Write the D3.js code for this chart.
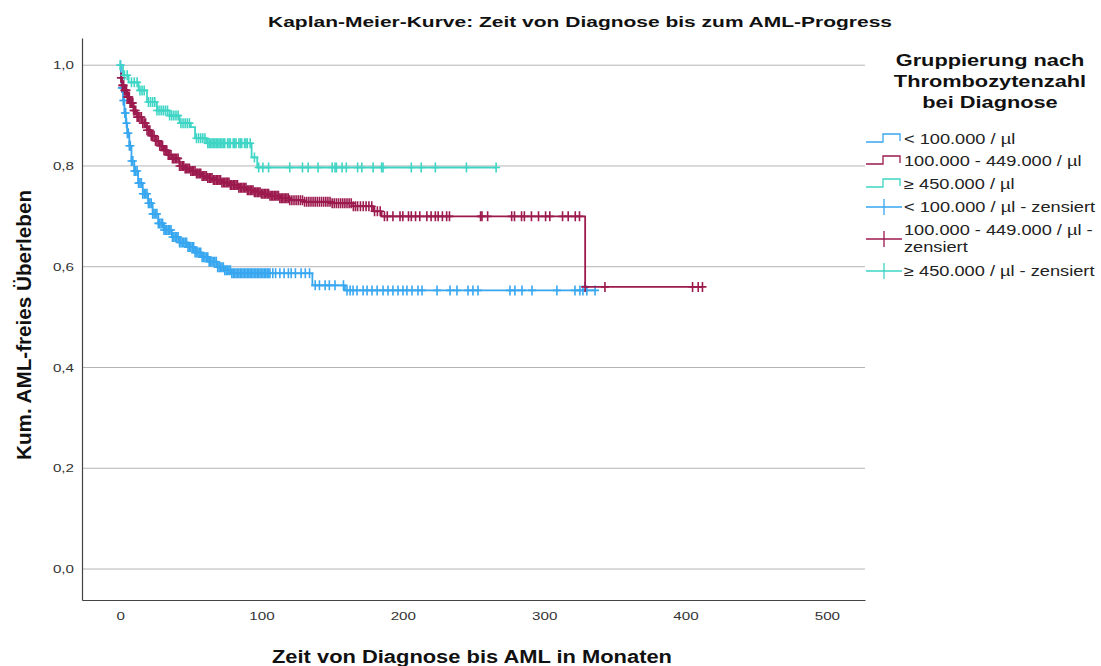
<!DOCTYPE html>
<html>
<head>
<meta charset="utf-8">
<script src="https://cdn.jsdelivr.net/npm/d3@7"></script>
<style>
  body { margin: 0; background: #fff; }
  svg text { font-family: "Liberation Sans", Arial, sans-serif; }
</style>
</head>
<body>
<svg id="chart" width="1101" height="666"></svg>
<script>
// groups (legend labels)
const groupNames = ["< 100.000 / µl", "100.000 - 449.000 / µl", "≥ 450.000 / µl"];
const groupColors = ["#38a7f0", "#9c1a4e", "#3fd5c5"];

// step knots: time (months) and survival after the step
const blueTimes = [0, 0.5, 1, 2, 3, 4, 5, 6.5, 8, 10, 12.7, 16, 19.8, 23, 27, 31, 36.6, 42, 48, 53, 58, 63, 69, 74, 79, 136, 159];
const blueSurv  = [1.0, 0.975, 0.955, 0.93, 0.905, 0.885, 0.865, 0.84, 0.81, 0.79, 0.766, 0.745, 0.726, 0.705, 0.686, 0.673, 0.659, 0.648, 0.639, 0.628, 0.619, 0.61, 0.599, 0.593, 0.587, 0.563, 0.553];
const blueCensor = [0.3, 0.8, 1.2, 1.7, 2.2, 2.8, 3.3, 3.9, 4.5, 5.1, 5.8, 6.5, 7.2, 8, 9, 10, 11, 12, 13, 14, 15, 16, 17, 18, 19, 20,
  21, 22, 23, 24, 25, 26, 27, 28, 29, 30, 31, 32, 33, 34, 35, 36, 37, 38, 39, 40, 41, 42, 43, 44, 45, 46, 47, 48, 49, 50,
  51, 52, 53, 54, 55, 56, 57, 58, 59, 60, 61, 62, 63, 64, 65, 66, 67, 68, 69, 70, 71, 72, 73, 74, 75, 76, 77, 78, 79, 80,
  81, 82, 83, 84, 85, 86, 87, 88, 89, 90, 91, 92, 93, 94, 95, 96, 97, 98, 99, 100, 101, 102, 103, 104, 105, 106, 108, 110,
  113, 116, 119, 121, 124, 128, 131, 134,
  138, 141, 145, 148, 152, 158,
  160.5, 162.7, 164.8, 167.6, 171.9, 174.7, 178.2, 181.8, 186, 189.5, 193, 196.6, 200.1, 202.9, 206.5, 210.7, 213.6, 224.2, 233.4, 238.3, 246.1, 249.6, 253.2, 275.8, 279.3, 284.3, 291.4, 309, 321.8, 325.3, 327.4, 330.2, 336];

const redTimes = [0, 1.5, 3, 5, 7, 9.5, 12, 15.5, 19, 22, 25, 28, 31, 34, 37, 42, 46, 50, 54, 58, 62, 66, 72, 78, 84, 90, 95, 100, 106, 113, 120, 130, 149, 165, 179, 185, 329];
const redSurv  = [0.975, 0.96, 0.95, 0.937, 0.925, 0.91, 0.897, 0.885, 0.871, 0.86, 0.85, 0.84, 0.831, 0.822, 0.815, 0.80, 0.795, 0.79, 0.785, 0.78, 0.776, 0.772, 0.767, 0.762, 0.757, 0.752, 0.748, 0.745, 0.741, 0.736, 0.732, 0.729, 0.726, 0.72, 0.71, 0.70, 0.56];
const redCensor = [0.5, 1, 1.5, 2, 2.5, 3, 3.5, 4, 4.5, 5, 5.5, 6, 6.5, 7, 7.5, 8, 8.5, 9, 9.5, 10,
  11, 12, 13, 14, 15, 16, 17, 18, 19, 20, 21, 22, 23, 24, 25, 26, 27, 28, 29, 30, 31, 32, 33, 34, 35, 36, 37, 38, 39, 40,
  41, 42, 43, 44, 45, 46, 47, 48, 49, 50, 51, 52, 53, 54, 55, 56, 57, 58, 59, 60, 61, 62, 63, 64, 65, 66, 67, 68, 69, 70,
  71, 72, 73, 74, 75, 76, 77, 78, 79, 80, 81, 82, 83, 84, 85, 86, 87, 88, 89, 90, 91, 92, 93, 94, 95, 96, 97, 98, 99, 100,
  101, 102, 103, 104, 105, 106, 107, 108, 109, 110, 111, 112, 113, 114, 115, 116, 117, 118, 119, 120,
  121.5, 123, 124.5, 126, 127.5, 129, 130.5, 132, 133.5, 135, 136.5, 138, 139.5, 141, 142.5, 144, 145.5, 147, 148.5, 150,
  151.5, 153, 154.5, 156, 157.5, 159, 160.5, 162, 163.5, 165, 166.5, 168, 170, 172, 174, 176, 178, 180, 182, 184,
  187, 189, 193, 198, 200, 204, 206, 209, 212, 217, 220, 223, 225, 228, 231, 233, 255, 256, 260, 277, 279, 284, 286, 291, 296, 301, 304, 313, 317, 322, 325,
  329, 343, 405, 409, 412];

const tealTimes = [0, 2, 6, 13, 19, 26, 35, 42, 50, 53, 61, 93, 97];
const tealSurv  = [1.0, 0.98, 0.966, 0.95, 0.927, 0.91, 0.90, 0.885, 0.877, 0.855, 0.845, 0.817, 0.797];
const tealCensor = [0, 3, 5, 8, 10, 12, 14, 15.5, 17, 20, 21.5, 23, 24.5, 26, 27.5, 29, 30.5, 32, 33.5, 35, 36.5, 38, 39.5, 41, 43, 44.5, 46, 47.5, 49,
  54, 55.5, 57, 58.5, 60, 62, 63, 64, 65, 66, 67, 68, 69, 70, 71, 72, 73, 74, 76, 77, 78, 80, 81, 82, 84, 85, 86, 88, 89, 90, 92, 95,
  98, 101, 105, 120, 129, 133, 140, 150, 152, 153, 157, 160, 168, 171, 179, 185, 186, 206, 213, 223, 245, 266];

const xTicks = [0, 100, 200, 300, 400, 500];
const yTicks = [0, 0.2, 0.4, 0.6, 0.8, 1.0];

const groups = [
  { times: blueTimes, surv: blueSurv, censor: blueCensor },
  { times: redTimes, surv: redSurv, censor: redCensor },
  { times: tealTimes, surv: tealSurv, censor: tealCensor }
];

const svg = d3.select("#chart");

// the source picture has wide glyphs; stretch text horizontally
const stretch = (sel, k) => sel.each(function () {
  const w = this.getComputedTextLength();
  d3.select(this).attr("textLength", w * k).attr("lengthAdjust", "spacingAndGlyphs");
});

const x = d3.scaleLinear().domain([-27, 527]).range([82, 865]);
const y = d3.scaleLinear().domain([-0.0615, 1.054]).range([600, 38]);

// gridlines
svg.append("g")
  .selectAll("line")
  .data(yTicks)
  .enter()
  .append("line")
  .attr("x1", 82).attr("x2", 865)
  .attr("y1", d => y(d)).attr("y2", d => y(d))
  .attr("stroke", "#b4b4b4")
  .attr("stroke-width", 1);

// axes
const xAxis = svg.append("g")
  .attr("transform", "translate(0,600)")
  .call(d3.axisBottom(x).tickValues(xTicks).tickSize(0).tickSizeOuter(0).tickPadding(12));
const yAxis = svg.append("g")
  .attr("transform", "translate(82,0)")
  .call(d3.axisLeft(y).tickValues(yTicks).tickSize(0).tickSizeOuter(0).tickPadding(8)
    .tickFormat(d => d3.format(".1f")(d).replace(".", ",")));

[xAxis, yAxis].forEach(a => {
  a.select(".domain").attr("stroke", "#444").attr("stroke-width", 1.2);
  a.selectAll("text")
    .style("font-family", "'Liberation Sans', Arial, sans-serif")
    .style("font-size", "11px")
    .attr("fill", "#333")
    .call(stretch, 1.38);
});

// survival value at a given time (step function)
const survAt = (g, t) => {
  const i = d3.bisectRight(g.times, t) - 1;
  return g.surv[Math.max(0, i)];
};

const line = d3.line()
  .x(d => x(d[0]))
  .y(d => y(d[1]))
  .curve(d3.curveStepAfter);

groups.forEach((g, gi) => {
  const lastT = d3.max(g.censor.concat(g.times));
  const pts = g.times.map((t, i) => [t, g.surv[i]]);
  pts.push([lastT, g.surv[g.surv.length - 1]]);

  const layer = svg.append("g");
  layer.append("path")
    .datum(pts)
    .attr("d", line)
    .attr("fill", "none")
    .attr("stroke", groupColors[gi])
    .attr("stroke-width", 1.8);

  layer.selectAll("path.censor")
    .data(g.censor)
    .enter()
    .append("path")
    .attr("class", "censor")
    .attr("d", t => {
      const cx = x(t), cy = y(survAt(g, t));
      return `M${cx - 4},${cy}H${cx + 4}M${cx},${cy - 5}V${cy + 5}`;
    })
    .attr("stroke", groupColors[gi])
    .attr("stroke-width", 1.6)
    .attr("fill", "none");
});

// title
svg.append("text")
  .attr("x", 580).attr("y", 27)
  .attr("text-anchor", "middle")
  .style("font-size", "15px")
  .style("font-weight", "bold")
  .attr("fill", "#111")
  .attr("textLength", 624)
  .attr("lengthAdjust", "spacingAndGlyphs")
  .text("Kaplan-Meier-Kurve: Zeit von Diagnose bis zum AML-Progress");

// axis titles
svg.append("text")
  .attr("x", 472).attr("y", 663)
  .attr("text-anchor", "middle")
  .style("font-size", "18px")
  .style("font-weight", "bold")
  .attr("fill", "#111")
  .attr("textLength", 400)
  .attr("lengthAdjust", "spacingAndGlyphs")
  .text("Zeit von Diagnose bis AML in Monaten");

svg.append("text")
  .attr("transform", "translate(31,325) rotate(-90)")
  .attr("text-anchor", "middle")
  .style("font-size", "20px")
  .style("font-weight", "bold")
  .attr("fill", "#111")
  .attr("textLength", 270)
  .attr("lengthAdjust", "spacingAndGlyphs")
  .text("Kum. AML-freies Überleben");

// legend
const legendTitle = ["Gruppierung nach", "Thrombozytenzahl", "bei Diagnose"];
svg.append("g")
  .selectAll("text")
  .data(legendTitle)
  .enter()
  .append("text")
  .attr("x", 990)
  .attr("y", (d, i) => 66 + i * 21)
  .attr("text-anchor", "middle")
  .style("font-size", "16px")
  .style("font-weight", "bold")
  .attr("fill", "#111")
  .text(d => d)
  .call(stretch, 1.36);

const legendRows = [
  { lines: [groupNames[0]], color: groupColors[0], type: "step", cy: 139 },
  { lines: [groupNames[1]], color: groupColors[1], type: "step", cy: 161 },
  { lines: [groupNames[2]], color: groupColors[2], type: "step", cy: 184 },
  { lines: [groupNames[0] + " - zensiert"], color: groupColors[0], type: "censor", cy: 207 },
  { lines: [groupNames[1] + " -", "zensiert"], color: groupColors[1], type: "censor", cy: 230 },
  { lines: [groupNames[2] + " - zensiert"], color: groupColors[2], type: "censor", cy: 271 }
];

const leg = svg.append("g");
legendRows.forEach(r => {
  const iconY = r.lines.length > 1 ? r.cy + 9 : r.cy;
  if (r.type === "step") {
    leg.append("path")
      .attr("d", `M866,${iconY + 3}H883V${iconY - 5}H900V${iconY + 2}`)
      .attr("fill", "none")
      .attr("stroke", r.color)
      .attr("stroke-width", 1.3);
  } else {
    leg.append("path")
      .attr("d", `M866,${iconY}H902M884,${iconY - 8}V${iconY + 8}`)
      .attr("fill", "none")
      .attr("stroke", r.color)
      .attr("stroke-width", 1.3);
  }
  r.lines.forEach((t, i) => {
    leg.append("text")
      .attr("x", 904)
      .attr("y", r.cy + 5 + i * 17)
      .style("font-size", "14px")
      .attr("fill", "#222")
      .text(t)
      .call(stretch, 1.3);
  });
});
</script>
</body>
</html>
